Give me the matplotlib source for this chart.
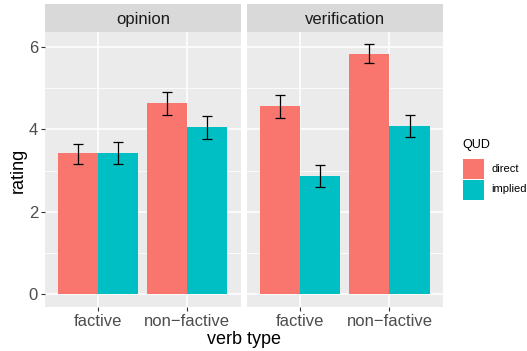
import matplotlib
matplotlib.use("Agg")
import matplotlib.pyplot as plt
from matplotlib.patches import Rectangle
import numpy as np

plt.rcParams['font.family'] = ['Liberation Sans', 'DejaVu Sans']

panels = ["opinion", "verification"]
verb_types = ["factive", "non\u2212factive"]
quds = ["direct", "implied"]
colors = {"direct": "#F8766D", "implied": "#00BFC4"}

# mean ratings [panel][qud][verb type]
means = {
    "opinion": {"direct": [3.42, 4.63], "implied": [3.42, 4.06]},
    "verification": {"direct": [4.56, 5.82], "implied": [2.87, 4.08]},
}
lower = {
    "opinion": {"direct": [3.17, 4.35], "implied": [3.15, 3.76]},
    "verification": {"direct": [4.27, 5.60], "implied": [2.60, 3.82]},
}
upper = {
    "opinion": {"direct": [3.65, 4.91], "implied": [3.70, 4.33]},
    "verification": {"direct": [4.83, 6.06], "implied": [3.13, 4.35]},
}

W, H = 527, 351
fig = plt.figure(figsize=(W / 100, H / 100), dpi=100)

panel_x = [(45, 240.7), (246.7, 443)]
top, bottom = 32, 307
strip_top = 4

x = np.arange(1, len(verb_types) + 1)
bw = 0.45

for i, p in enumerate(panels):
    l, r = panel_x[i]
    ax = fig.add_axes([l / W, 1 - bottom / H, (r - l) / W, (bottom - top) / H])
    ax.set_facecolor("#EBEBEB")
    for s in ax.spines.values():
        s.set_visible(False)
    ax.set_xlim(0.4, 2.6)
    ax.set_ylim(-0.303, 6.36)
    ax.set_yticks([0, 2, 4, 6])
    ax.set_yticks([1, 3, 5], minor=True)
    ax.set_xticks(x)
    ax.set_xticklabels(verb_types)
    ax.grid(True, which="major", color="white", linewidth=1.1)
    ax.grid(True, which="minor", axis="y", color="white", linewidth=0.55)
    ax.set_axisbelow(True)
    ax.tick_params(which="major", length=3, width=0.8, color="#333333",
                   labelsize=12, labelcolor="#4D4D4D", pad=2)
    ax.tick_params(which="minor", length=0)
    if i > 0:
        ax.tick_params(axis="y", left=False, labelleft=False)
    for j, q in enumerate(quds):
        xs = x - bw / 2 + j * bw
        ax.bar(xs, means[p][q], width=bw, color=colors[q], zorder=2)
        m = np.array(means[p][q])
        err = [m - np.array(lower[p][q]), np.array(upper[p][q]) - m]
        ax.errorbar(xs, m, yerr=err, fmt="none", ecolor="black",
                    elinewidth=0.9, capsize=3.4, capthick=0.9, zorder=3)
    # facet strip
    sax = fig.add_axes([l / W, 1 - top / H, (r - l) / W, (top - strip_top) / H])
    sax.set_facecolor("#D9D9D9")
    sax.set_xticks([])
    sax.set_yticks([])
    for s in sax.spines.values():
        s.set_visible(False)
    sax.text(0.5, 0.45, p, ha="center", va="center", fontsize=12,
             color="#1A1A1A", transform=sax.transAxes)

fig.text(18 / W, 1 - 170 / H, "rating", rotation=90, ha="center", va="center",
         fontsize=13)
fig.text(244 / W, 1 - 340 / H, "verb type", ha="center", va="center",
         fontsize=13)

# legend
fig.text(462.5 / W, 1 - 145 / H, "QUD", ha="left", va="center", fontsize=9)
for k, q in enumerate(quds):
    y0 = 159 + k * 20.5
    fig.patches.append(Rectangle((463 / W, 1 - (y0 + 20) / H), 21 / W, 20 / H,
                                 transform=fig.transFigure, facecolor=colors[q],
                                 edgecolor="none"))
    fig.text(491.5 / W, 1 - (y0 + 10) / H, q, ha="left", va="center", fontsize=8)

fig.savefig("out.png", dpi=100)
